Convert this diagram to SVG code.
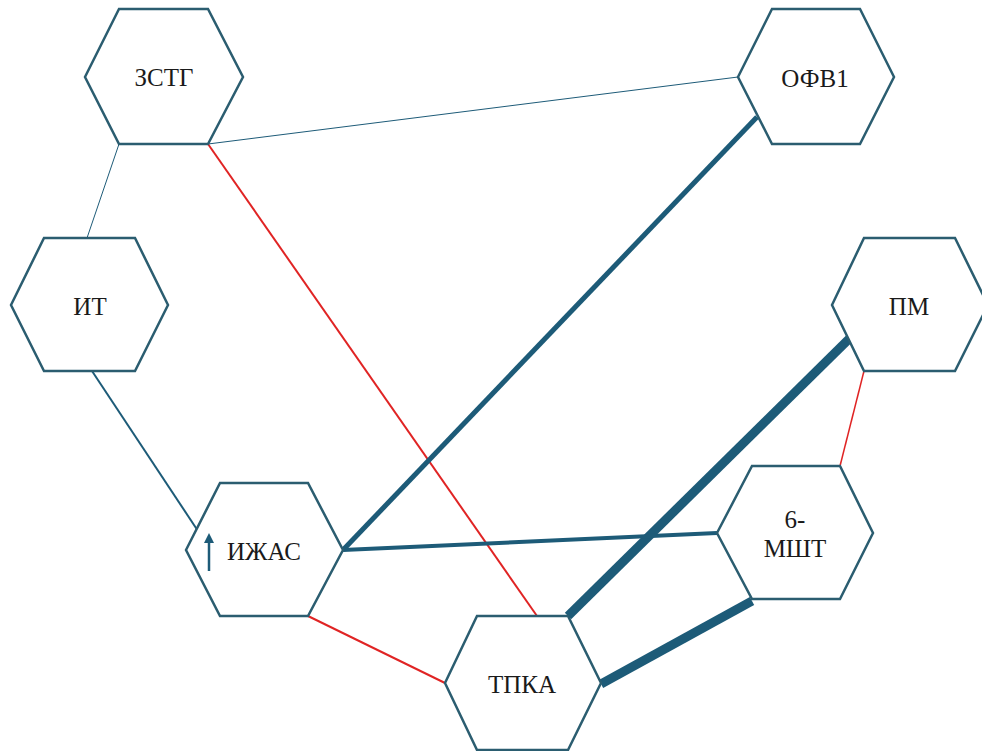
<svg xmlns="http://www.w3.org/2000/svg" width="982" height="751" viewBox="0 0 982 751">
<style>
.hex{fill:#ffffff;stroke:#2b5d70;stroke-width:2.5}
.lbl{font-family:'Liberation Serif','DejaVu Serif',serif;font-size:25px;fill:#1a1a1a;text-anchor:middle}
.teal{stroke:#1d5b78;fill:none;stroke-linecap:butt}
.red{stroke:#e02424;fill:none}
</style>
<defs>
<marker id="ah" viewBox="0 0 10 10" refX="2" refY="5" markerWidth="5" markerHeight="4" orient="auto">
<path d="M0,0 L10,5 L0,10 z" fill="#1d5b78"/>
</marker>
</defs>
<rect width="982" height="751" fill="#ffffff"/>
<g id="connectors">
<line class="teal" x1="208" y1="144" x2="738" y2="77" stroke-width="1"/>
<line class="teal" x1="119" y1="144" x2="87" y2="238" stroke-width="1"/>
<line class="red" x1="208" y1="144" x2="537" y2="616" stroke-width="2"/>
<line class="teal" x1="757" y1="117" x2="343" y2="550" stroke-width="5"/>
<line class="teal" x1="92" y1="371" x2="198" y2="531" stroke-width="2"/>
<line class="red" x1="864" y1="371" x2="840" y2="466" stroke-width="1.5"/>
<line class="teal" x1="852" y1="336" x2="568" y2="616" stroke-width="9"/>
<line class="teal" x1="343" y1="550" x2="717" y2="533" stroke-width="4"/>
<line class="red" x1="308" y1="616" x2="445" y2="683" stroke-width="2"/>
<line class="teal" x1="752" y1="601" x2="601" y2="684" stroke-width="9"/>
</g>
<g id="n-zstg">
<polygon class="hex" points="85,77 119,9 208,9 243,77 208,144 119,144"/>
<text class="lbl" x="164" y="86">ЗСТГ</text>
</g>
<g id="n-ofv1">
<polygon class="hex" points="738,77 772,9 860,9 894,77 860,144 772,144"/>
<text class="lbl" x="815" y="87">ОФВ1</text>
</g>
<g id="n-it">
<polygon class="hex" points="11,305 44,238 135,238 168,305 135,371 44,371"/>
<text class="lbl" x="90" y="315">ИТ</text>
</g>
<g id="n-pm">
<polygon class="hex" points="832,305 864,238 955,238 988,305 955,371 864,371"/>
<text class="lbl" x="909" y="315">ПМ</text>
</g>
<g id="n-izhas">
<polygon class="hex" points="186,550 220,483 308,483 343,550 308,616 220,616"/>
<line x1="209" y1="571" x2="209" y2="541" stroke="#1d5b78" stroke-width="2.5" marker-end="url(#ah)"/>
<text class="lbl" x="264" y="560">ИЖАС</text>
</g>
<g id="n-msht">
<polygon class="hex" points="717,533 752,466 840,466 873,533 840,599 752,599"/>
<text class="lbl" x="795" y="528">6-</text>
<text class="lbl" x="795" y="557">МШТ</text>
</g>
<g id="n-tpka">
<polygon class="hex" points="445,683 477,616 568,616 601,683 568,750 477,750"/>
<text class="lbl" x="522" y="693">ТПКА</text>
</g>
</svg>
